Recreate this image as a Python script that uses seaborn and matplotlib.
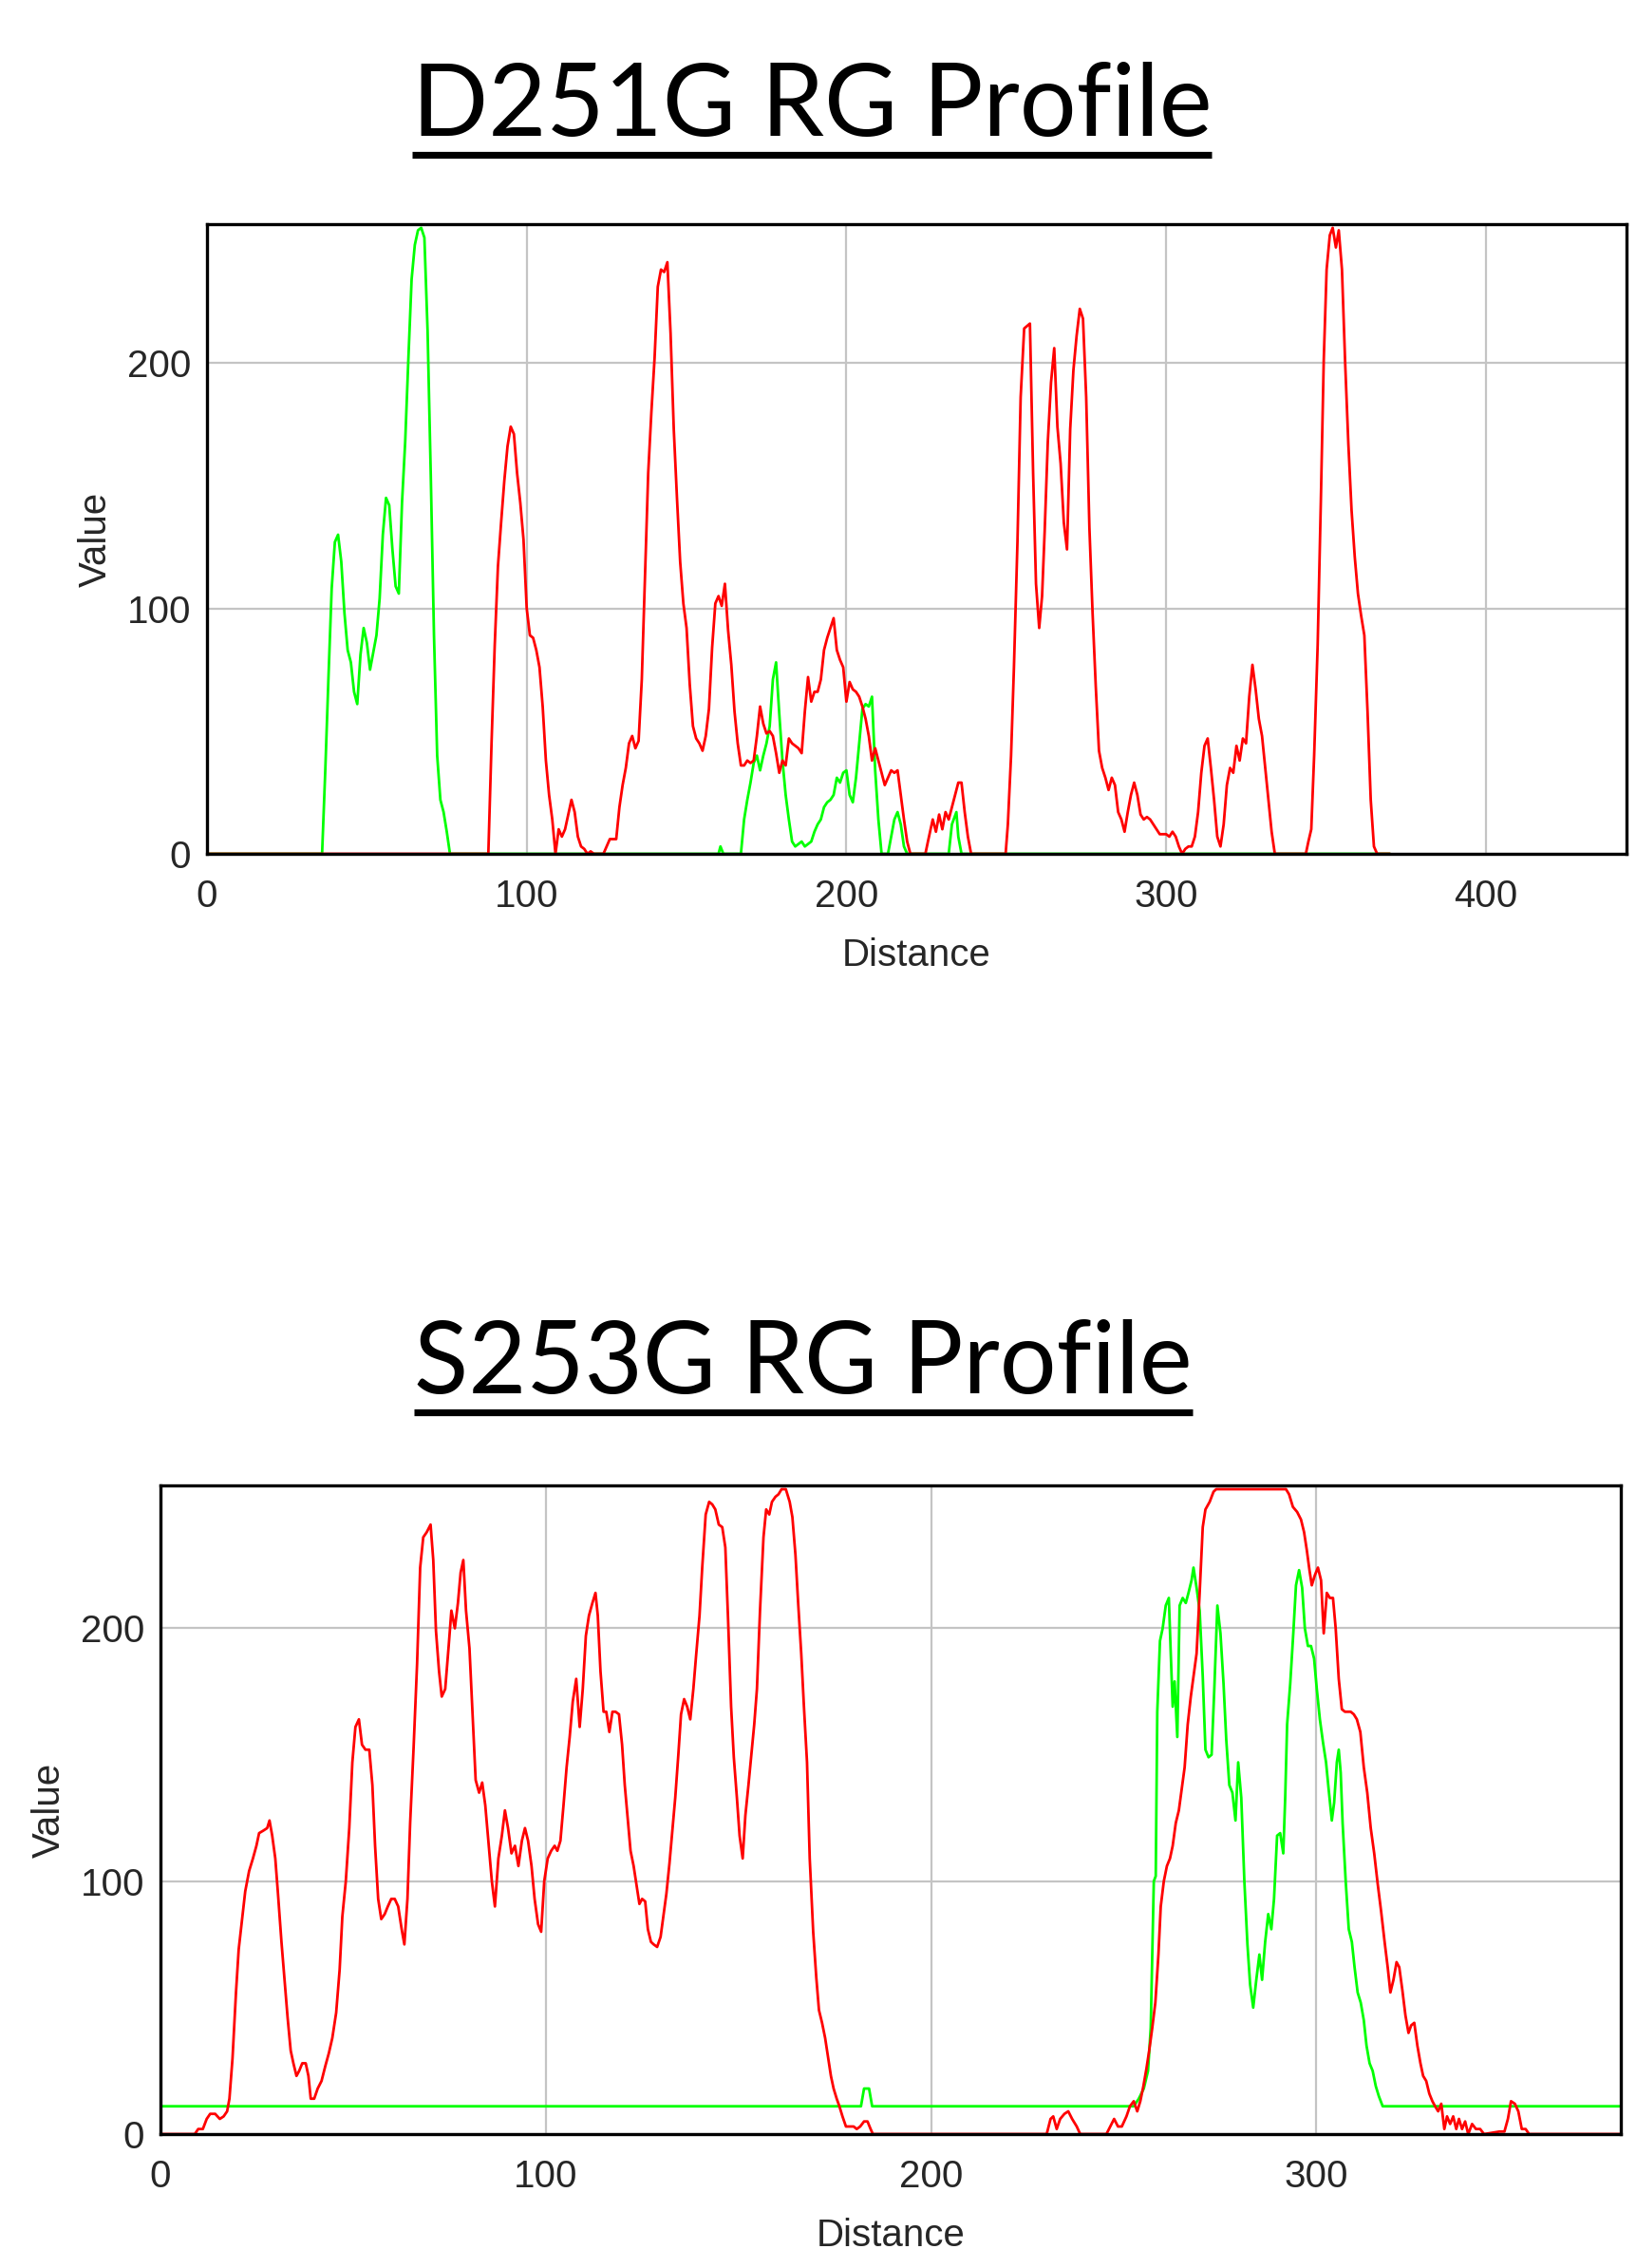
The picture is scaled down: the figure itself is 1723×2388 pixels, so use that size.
import pandas as pd
import seaborn as sns
import matplotlib.pyplot as plt
from matplotlib.lines import Line2D

# (distance, value) pairs
d251g_red = [
    (0, 0), (88, 0), (89, 45), (90, 85), (91, 117), (92, 135), (93, 152), (94, 166), (95, 174), (96, 171),
    (97, 155), (98, 143), (99, 128), (100, 100), (101, 89), (102, 88), (103, 83), (104, 76), (105, 60),
    (106, 38), (107, 24), (108, 14), (109, 0), (110, 10), (111, 7), (112, 10), (113, 16), (114, 22),
    (115, 17), (116, 7), (117, 3), (118, 2), (119, 0), (120, 1), (121, 0), (124, 0), (125, 3), (126, 6),
    (128, 6), (129, 19), (130, 28), (131, 35), (132, 45), (133, 48), (134, 43), (135, 46), (136, 71),
    (137, 113), (138, 155), (139, 180), (140, 202), (141, 231), (142, 238), (143, 237), (144, 241),
    (145, 212), (146, 173), (147, 145), (148, 119), (149, 102), (150, 92), (151, 69), (152, 52), (153, 47),
    (154, 45), (155, 42), (156, 48), (157, 59), (158, 84), (159, 102), (160, 105), (161, 101), (162, 110),
    (163, 91), (164, 77), (165, 58), (166, 45), (167, 36), (168, 36), (169, 38), (170, 37), (171, 38),
    (172, 48), (173, 60), (174, 53), (175, 49), (176, 50), (177, 48), (178, 41), (179, 33), (180, 38),
    (181, 36), (182, 47), (183, 45), (184, 44), (185, 43), (186, 41), (187, 58), (188, 72), (189, 62),
    (190, 66), (191, 66), (192, 71), (193, 83), (194, 88), (195, 92), (196, 96), (197, 83), (198, 79),
    (199, 76), (200, 62), (201, 70), (202, 67), (203, 66), (204, 64), (205, 60), (206, 55), (207, 48),
    (208, 38), (209, 43), (210, 38), (211, 33), (212, 28), (213, 31), (214, 34), (215, 33), (216, 34),
    (217, 24), (218, 14), (219, 5), (220, 0), (224.7, 0), (225.5, 5), (227, 14), (228, 9), (229, 16),
    (230, 10), (231, 17), (232, 14), (233, 19), (234, 24), (235, 29), (236, 29), (237, 17), (238, 7),
    (239, 0), (249.8, 0), (250.5, 12), (251.5, 40), (252.4, 76), (253.5, 127), (254.5, 186), (255.6, 214),
    (256.5, 215), (257.4, 216), (258.4, 155), (259.3, 110), (260.3, 92), (261.2, 105), (262, 131),
    (263, 168), (264, 192), (265, 206), (266, 174), (267, 159), (268, 135), (269, 124), (270, 173),
    (271, 197), (272, 211), (273, 222), (274, 218), (275, 186), (276, 133), (277, 98), (278, 68),
    (279, 42), (280, 35), (281, 31), (282, 26), (283, 31), (284, 28), (285, 17), (286, 14), (287, 9),
    (288, 17), (289, 24), (290, 29), (291, 24), (292, 16), (293, 14), (294, 15), (295, 14), (296, 12),
    (297, 10), (298, 8), (300, 8), (301, 7), (302, 9), (303, 7), (304, 3), (305, 0), (306, 2), (307, 3),
    (308, 3), (309, 7), (310, 17), (311, 33), (312, 44), (313, 47), (314, 35), (315, 22), (316, 7),
    (317, 3), (318, 12), (319, 28), (320, 35), (321, 33), (322, 44), (323, 38), (324, 47), (325, 45),
    (326, 64), (327, 77), (328, 67), (329, 55), (330, 48), (331, 35), (332, 22), (333, 9), (334, 0),
    (343.7, 0), (344.5, 5), (345.4, 10), (346.3, 40), (347.4, 85), (348.4, 144), (349.3, 201),
    (350.2, 238), (351.2, 252), (352.1, 255), (353.1, 247), (354, 254), (355, 238), (356, 200),
    (357, 167), (358, 140), (359, 121), (360, 106), (361, 97), (362, 89), (363, 58), (364, 22),
    (365, 3), (366, 0), (370, 0),
]
d251g_green = [
    (0, 0), (36, 0), (37, 34), (38, 72), (39, 108), (40, 127), (41, 130), (42, 119), (43, 98), (44, 83),
    (45, 78), (46, 66), (47, 61), (48, 81), (49, 92), (50, 86), (51, 75), (52, 82), (53, 89), (54, 104),
    (55, 130), (56, 145), (57, 142), (58, 124), (59, 109), (60, 106), (61, 143), (62, 168), (63, 202),
    (64, 234), (65, 248), (66, 254), (67, 255), (68, 251), (69, 213), (70, 154), (71, 89), (72, 40),
    (73, 22), (74, 17), (75, 9), (76, 0), (160, 0), (160.6, 3), (161.5, 0), (167, 0), (168, 14),
    (169, 22), (170, 29), (171, 37), (172, 40), (173, 34), (174, 40), (175, 45), (176, 52), (177, 71),
    (178, 78), (179, 57), (180, 38), (181, 24), (182, 14), (183, 5), (184, 3), (185, 4), (186, 5),
    (187, 3), (188, 4), (189, 5), (190, 9), (191, 12), (192, 14), (193, 19), (194, 21), (195, 22),
    (196, 24), (197, 31), (198, 29), (199, 33), (200, 34), (201, 24), (202, 21), (203, 31), (204, 45),
    (205, 59), (206, 61), (207, 60), (208, 64), (209, 34), (210, 14), (211, 0), (213, 0), (214, 7),
    (215, 14), (216, 17), (217, 12), (218, 3), (219, 0), (232, 0), (233, 12), (234.4, 17), (235, 7),
    (236, 0), (370, 0),
]

s253g_red = [
    (0, 0), (8.9, 0), (9.8, 2), (11, 2), (12, 6), (12.9, 8), (14.2, 8), (15.4, 6), (16.4, 7), (17.3, 9),
    (17.9, 14), (18.7, 30), (19.6, 56), (20.3, 73), (21.2, 85), (22, 96), (23, 104), (24, 109),
    (24.9, 114), (25.6, 119), (26.7, 120), (27.7, 121), (28.3, 124), (29, 118), (29.8, 109), (30.5, 95),
    (31.4, 76), (32.2, 61), (33, 46), (33.8, 33), (34.5, 28), (35.3, 23), (36, 25), (36.8, 28),
    (37.7, 28), (38.4, 23), (39, 14), (39.9, 14), (40.8, 18), (41.8, 21), (42.8, 27), (43.7, 32),
    (44.6, 38), (45.6, 48), (46.5, 65), (47.2, 86), (48.1, 100), (49, 121), (49.8, 147), (50.6, 161),
    (51.5, 164), (52.3, 154), (53.2, 152), (54.2, 152), (55, 138), (55.7, 114), (56.5, 93), (57.3, 85),
    (58.2, 87), (59, 90), (59.9, 93), (60.8, 93), (61.7, 90), (62.6, 81), (63.3, 75), (64.1, 93),
    (64.8, 123), (65.7, 153), (66.6, 186), (67.4, 224), (68.2, 236), (69.1, 238), (70.1, 241),
    (70.8, 227), (71.5, 199), (72.3, 183), (73, 173), (73.9, 176), (74.8, 193), (75.5, 207), (76.4, 200),
    (77.2, 210), (77.9, 222), (78.6, 227), (79.3, 207), (80.2, 192), (81, 166), (81.8, 140), (82.7, 135),
    (83.5, 139), (84.3, 130), (85.1, 116), (86, 100), (86.8, 90), (87.7, 109), (88.6, 118), (89.4, 128),
    (90.2, 121), (91.1, 111), (92, 114), (92.9, 106), (93.8, 116), (94.6, 121), (95.4, 116), (96.3, 106),
    (97.1, 93), (98, 83), (98.8, 80), (99.6, 100), (100.5, 109), (101.4, 112), (102.3, 114), (103, 112),
    (103.8, 116), (104.6, 130), (105.4, 145), (106.2, 157), (107, 171), (107.9, 180), (108.8, 161),
    (109.6, 176), (110.4, 197), (111.2, 205), (112.1, 210), (112.9, 214), (113.5, 205), (114.2, 183),
    (115, 167), (115.7, 167), (116.5, 159), (117.3, 167), (118.1, 167), (119, 166), (119.8, 154),
    (120.5, 138), (121.3, 124), (122, 112), (122.8, 106), (123.5, 99), (124.3, 91), (125, 93),
    (125.8, 92), (126.5, 81), (127.3, 76), (128, 75), (128.9, 74), (129.8, 78), (130.6, 87), (131.3, 95),
    (132.1, 107), (132.8, 119), (133.6, 133), (134.4, 150), (135.1, 166), (135.9, 172), (136.7, 169),
    (137.5, 164), (138.3, 176), (139, 189), (139.9, 205), (140.6, 224), (141.5, 245), (142.4, 250),
    (143.2, 249), (144, 247), (144.9, 241), (145.8, 240), (146.6, 232), (147.3, 204), (148.1, 169),
    (148.8, 149), (149.6, 133), (150.3, 118), (151.1, 109), (151.8, 126), (152.6, 138), (153.3, 149),
    (154.1, 162), (154.8, 176), (155.6, 207), (156.5, 236), (157.2, 247), (158, 245), (158.7, 250),
    (159.6, 252), (160.4, 253), (161.2, 255), (162.3, 255), (163.3, 250), (164, 244), (164.8, 229),
    (165.5, 210), (166.3, 190), (167, 169), (167.8, 147), (168.5, 109), (169.4, 80), (170.2, 62),
    (170.9, 49), (171.7, 44), (172.5, 38), (173.2, 31), (174, 23), (174.7, 18), (175.5, 14), (176.2, 11),
    (177, 7), (177.9, 3), (179.9, 3), (180.7, 2), (181.6, 3), (182.6, 5), (183.5, 5), (184.3, 2),
    (184.9, 0), (230, 0), (231, 6), (231.7, 7), (232.6, 2), (233.5, 6), (234.6, 8), (235.6, 9),
    (236.6, 6), (237.8, 3), (238.7, 0), (245.5, 0), (246.5, 3), (247.5, 6), (248.5, 3), (249.5, 3),
    (250.7, 7), (251.6, 11), (252.6, 13), (253.5, 9), (254.3, 13), (255.1, 19), (255.9, 26), (256.6, 33),
    (257.4, 42), (258.2, 52), (259, 71), (259.6, 90), (260.4, 100), (261.2, 106), (262, 109),
    (262.7, 114), (263.5, 123), (264.3, 128), (265, 136), (265.8, 145), (266.6, 162), (267.4, 173),
    (268.1, 181), (268.9, 190), (269.7, 214), (270.5, 240), (271.2, 247), (272.3, 250), (273.3, 254),
    (274, 255), (292.1, 255), (292.9, 253), (293.9, 248), (295, 246), (296, 243), (296.8, 238),
    (297.5, 231), (298.2, 223), (298.8, 217), (299.6, 221), (300.4, 224), (301.2, 219), (301.9, 198),
    (302.7, 214), (303.5, 212), (304.3, 212), (305, 200), (305.8, 180), (306.6, 168), (307.4, 167),
    (308.9, 167), (309.7, 166), (310.5, 164), (311.4, 159), (312.3, 145), (313.2, 135), (314.1, 121),
    (315, 111), (315.9, 99), (316.8, 88), (317.7, 76), (318.5, 66), (319.2, 56), (320, 61), (320.8, 68),
    (321.5, 66), (322.3, 57), (323.1, 47), (323.9, 40), (324.6, 43), (325.4, 44), (326.2, 35), (327, 28),
    (327.7, 23), (328.5, 21), (329.3, 16), (330.1, 13), (330.8, 11), (331.6, 9), (332.4, 12), (333.2, 2),
    (333.9, 7), (334.7, 4), (335.5, 7), (336.3, 2), (337, 6), (337.8, 2), (338.6, 5), (339.4, 0),
    (340.4, 4), (341.4, 2), (342.5, 2), (343.5, 0), (347.5, 1), (348.8, 1), (349.7, 6), (350.5, 13),
    (351.5, 12), (352.4, 9), (353.3, 2), (354.3, 2), (355.2, 0), (379, 0),
]
s253g_green = [
    (0, 11), (181.8, 11), (182.6, 18), (183.9, 18), (184.7, 11), (252.6, 11), (253.9, 14), (255.2, 18),
    (256.3, 25), (257, 42), (257.8, 100), (258.3, 102), (258.7, 167), (259.4, 195), (260.1, 200),
    (260.9, 209), (261.7, 212), (262.2, 190), (262.7, 169), (263.2, 179), (263.9, 157), (264.5, 209),
    (265.3, 212), (266.1, 210), (266.8, 214), (267.6, 219), (268.1, 224), (268.9, 216), (269.7, 207),
    (270.5, 181), (271.2, 152), (272, 149), (272.8, 150), (273.5, 176), (274.3, 209), (275.1, 198),
    (275.9, 178), (276.6, 156), (277.4, 138), (278.2, 135), (279, 124), (279.7, 147), (280.5, 133),
    (281.3, 100), (282.1, 75), (282.8, 59), (283.6, 50), (284.4, 61), (285.2, 71), (285.9, 61),
    (286.7, 76), (287.5, 87), (288.3, 81), (289, 93), (289.8, 118), (290.6, 119), (291.4, 111),
    (291.9, 133), (292.4, 162), (293.2, 178), (294, 198), (294.7, 217), (295.5, 223), (296.3, 216),
    (297, 200), (297.8, 193), (298.6, 193), (299.4, 188), (300.1, 176), (300.9, 164), (301.7, 155),
    (302.5, 147), (303.2, 136), (304, 124), (304.6, 131), (305.3, 147), (305.8, 152), (306.3, 143),
    (306.8, 123), (307.6, 100), (308.4, 81), (309.2, 76), (309.9, 66), (310.7, 56), (311.5, 52),
    (312.3, 45), (313, 35), (313.8, 28), (314.6, 25), (315.4, 19), (316.2, 15), (317.2, 11), (379, 11),
]

titles = ['D251G RG Profile', 'S253G RG Profile']
x_limits = [444, 379]
x_ticks = [[0, 100, 200, 300, 400], [0, 100, 200, 300]]
y_ticks = [0, 100, 200]

PALETTE = {'red': '#ff0000', 'green': '#00ff00'}
FIG_W, FIG_H = 1724, 2388


def profile_frame(red, green):
    rows = [(d, v, 'red') for d, v in red] + [(d, v, 'green') for d, v in green]
    return pd.DataFrame(rows, columns=['distance', 'value', 'channel'])


def draw_profile(ax, df, xmax, xticks):
    # green first so the red channel sits on top, as in the ImageJ plot
    sns.lineplot(data=df, x='distance', y='value', hue='channel', hue_order=['green', 'red'],
                 palette=PALETTE, estimator=None, sort=False, linewidth=2.0, legend=False, ax=ax)
    ax.set_xlim(0, xmax)
    ax.set_ylim(0.7, 256.5)  # zero values sit just under the bottom frame, hidden
    ax.set_xticks(xticks)
    ax.set_yticks(y_ticks)
    ax.grid(True, color='#c4c4c4', linewidth=1.6)
    ax.set_axisbelow(True)
    ax.tick_params(length=0, labelsize=29)
    ax.tick_params(axis='x', pad=19)
    ax.tick_params(axis='y', pad=12)
    ax.set_xlabel('Distance', fontsize=29, labelpad=17)
    ax.set_ylabel('Value', fontsize=29, labelpad=10)
    for sp in ax.spines.values():
        sp.set_visible(True)
        sp.set_color('black')
        sp.set_linewidth(2.4)
        sp.set_zorder(5)


def underlined_title(fig, text, x_px, base_px, line_px):
    t = fig.text(x_px / FIG_W, 1 - base_px / FIG_H, text, ha='center', va='baseline',
                 fontsize=76, family='Lato', color='black')
    fig.canvas.draw()
    bb = t.get_window_extent(fig.canvas.get_renderer()).transformed(fig.transFigure.inverted())
    y = 1 - line_px / FIG_H
    fig.add_artist(Line2D([bb.x0, bb.x1], [y, y], transform=fig.transFigure,
                          color='black', linewidth=5.2, solid_capstyle='butt'))


def main():
    sns.set_style('white')
    plt.rcParams['font.family'] = ['Liberation Sans', 'DejaVu Sans']

    fig = plt.figure(figsize=(FIG_W / 100, FIG_H / 100), dpi=100)
    ax_top = fig.add_axes([218 / FIG_W, 1 - 899 / FIG_H, (1713 - 218) / FIG_W, (899 - 236) / FIG_H])
    ax_bot = fig.add_axes([169 / FIG_W, 1 - 2247 / FIG_H, (1707 - 169) / FIG_W, (2247 - 1564) / FIG_H])

    draw_profile(ax_top, profile_frame(d251g_red, d251g_green), x_limits[0], x_ticks[0])
    draw_profile(ax_bot, profile_frame(s253g_red, s253g_green), x_limits[1], x_ticks[1])

    underlined_title(fig, titles[0], 855, 143, 163)
    underlined_title(fig, titles[1], 846, 1467, 1487)

    fig.savefig('out.png', dpi=100, facecolor='white')
    plt.close(fig)


if __name__ == '__main__':
    main()
